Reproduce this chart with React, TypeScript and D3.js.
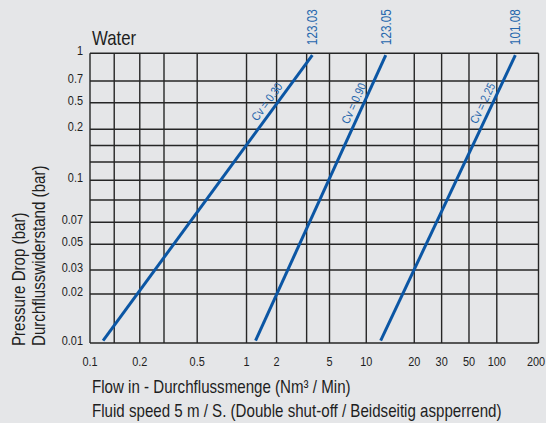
import React from 'react';
import * as d3 from 'd3';

// flow grid (Nm3/min) - irregular chart paper, some lines unlabeled
const xGridValues = [0.1, 0.15, 0.2, 0.3, 0.5, 1, 2, 3, 5, 10, 20, 30, 50, 100, 200];
const xTickLabels = ['0.1', '', '0.2', '', '0.5', '1', '2', '', '5', '10', '20', '30', '50', '100', '200'];
// pressure drop grid (bar)
const yGridValues = [1, 0.7, 0.5, 0.2, 0.15, 0.12, 0.1, 0.08, 0.07, 0.05, 0.03, 0.02, 0.01];
const yTickLabels = ['1', '0.7', '0.5', '0.2', '', '', '0.1', '', '0.07', '0.05', '0.03', '0.02', '0.01'];

// valves
const valveCodes = ['123.03', '123.05', '101.08'];
const cvValues = ['0.30', '0.90', '2.25'];
const flowAtLowDrop = [0.127, 1.3, 13.0];
const flowAtHighDrop = [3.5, 14.06, 144.5];
const dropRange = [0.0105, 0.98];
const cvLabelDrop = 0.45;

// where the grid lines sit on the paper (fraction of plot width / height)
const xGridFrac = [0, 0.054, 0.111, 0.165, 0.239, 0.349, 0.416, 0.483, 0.534, 0.616, 0.723, 0.784, 0.845, 0.907, 1];
const yGridFrac = [0, 0.0956, 0.1705, 0.2623, 0.3182, 0.3752, 0.4384, 0.5064, 0.5834, 0.659, 0.748, 0.831, 1];

const W = 546, H = 423;
const margin = { left: 90, right: 7.5, top: 53.3, bottom: 80 };
const FONT = "'Liberation Sans', Arial, sans-serif";
const NARROW = 0.84; // no narrow face installed, squeeze Liberation Sans instead
const BLUE = '#0b56a4';
const LABEL_BLUE = '#2566ad';
const INK = '#1e1e1e';

// condensed text: translate, rotate, then squeeze along the baseline
function NText({ x, y, rotate = 0, children, ...rest }: any) {
  return (
    <g transform={`translate(${x},${y}) rotate(${rotate}) scale(${NARROW},1)`}>
      <text {...rest}>{children}</text>
    </g>
  );
}

export default function App() {
  const pw = W - margin.left - margin.right;
  const ph = H - margin.top - margin.bottom;

  const x = d3.scaleLinear()
    .domain(xGridValues)
    .range(xGridFrac.map(f => margin.left + f * pw));
  const y = d3.scaleLinear()
    .domain(yGridValues)
    .range(yGridFrac.map(f => margin.top + f * ph));

  const line = d3.line<[number, number]>()
    .x(d => x(d[0]))
    .y(d => y(d[1]));

  const series = valveCodes.map((code, i) => {
    const pts: [number, number][] = [
      [flowAtLowDrop[i], dropRange[0]],
      [flowAtHighDrop[i], dropRange[1]],
    ];
    const [x0, y0] = [x(pts[0][0]), y(pts[0][1])];
    const [x1, y1] = [x(pts[1][0]), y(pts[1][1])];
    const angle = Math.atan2(y1 - y0, x1 - x0) * 180 / Math.PI;
    const ly = y(cvLabelDrop);
    const lx = x0 + (ly - y0) / (y1 - y0) * (x1 - x0);
    return { code, cv: cvValues[i], pts, top: [x1, y1], angle, lx, ly };
  });

  const left = margin.left, right = W - margin.right;
  const top = margin.top, bottom = margin.top + ph;

  return (
    <svg width={W} height={H} style={{ position: 'absolute', left: 0, top: 0, background: '#e5e6e8' }}
      fontFamily={FONT}>
      <rect x={0} y={0} width={W} height={H} fill="#e5e6e8" />

      {/* grid */}
      <g stroke="#262626" strokeWidth={1.4}>
        {xGridValues.map((v, i) => (
          <line key={'gx' + i} x1={x(v)} x2={x(v)} y1={top} y2={bottom} />
        ))}
        {yGridValues.map((v, i) => (
          <line key={'gy' + i} x1={left} x2={right} y1={y(v)} y2={y(v)} />
        ))}
      </g>

      {/* tick labels */}
      <g fontSize={13} fill={INK}>
        {xGridValues.map((v, i) => xTickLabels[i] ? (
          <NText key={'tx' + i} x={Math.min(x(v), W - 10)} y={366} textAnchor="middle">{xTickLabels[i]}</NText>
        ) : null)}
        {yGridValues.map((v, i) => yTickLabels[i] ? (
          <NText key={'ty' + i} x={83} y={y(v) - 2.5} textAnchor="end" dominantBaseline="central">{yTickLabels[i]}</NText>
        ) : null)}
      </g>

      {/* valve lines */}
      <g>
        {series.map(s => (
          <g key={s.code}>
            <path d={line(s.pts) || ''} fill="none" stroke={BLUE} strokeWidth={3} />
            <NText x={s.top[0] + 5} y={s.top[1] - 10} rotate={-90}
              fontSize={14} fill={LABEL_BLUE}>{s.code}</NText>
            <NText x={s.lx} y={s.ly} rotate={s.angle}
              textAnchor="middle" dy={-5} fontSize={12} fill={LABEL_BLUE}>{`Cv = ${s.cv}`}</NText>
          </g>
        ))}
      </g>

      {/* titles */}
      <NText x={92} y={45} fontSize={20} fill={INK}>Water</NText>
      <NText x={92} y={392.5} fontSize={18} fill={INK}>Flow in - Durchflussmenge (Nm³ / Min)</NText>
      <NText x={92} y={416.5} fontSize={18} fill={INK}>Fluid speed 5 m / S. (Double shut-off / Beidseitig aspperrend)</NText>
      <NText x={25} y={346} rotate={-90} fontSize={18} fill={INK}>Pressure Drop (bar)</NText>
      <NText x={44.5} y={346} rotate={-90} fontSize={18} fill={INK}>Durchflusswiderstand (bar)</NText>
    </svg>
  );
}
